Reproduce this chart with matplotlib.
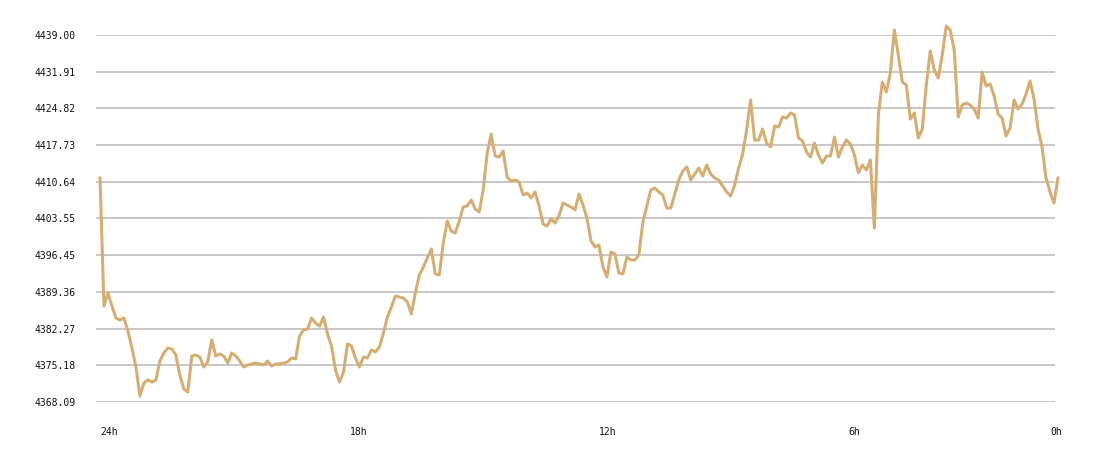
import numpy as np
import matplotlib
matplotlib.use("Agg")
import matplotlib.pyplot as plt

# Price over the last 24 hours, one reading every 0.1 h (oldest first)
prices = [
    4411.37, 4386.64, 4389.15, 4386.64, 4384.32, 4383.93, 4384.32, 4381.81, 4378.52, 4374.85,
    4369.25, 4371.76, 4372.34, 4371.95, 4372.34, 4376.01, 4377.56, 4378.52, 4378.33, 4377.17,
    4373.31, 4370.60, 4370.02, 4376.98, 4377.17, 4376.78, 4374.85, 4375.82, 4380.07, 4376.98,
    4377.36, 4376.98, 4375.62, 4377.56, 4376.98, 4376.01, 4374.85, 4375.24, 4375.43, 4375.62,
    4375.43, 4375.24, 4376.01, 4375.04, 4375.43, 4375.43, 4375.62, 4375.82, 4376.59, 4376.40,
    4380.84, 4382.00, 4382.19, 4384.32, 4383.35, 4382.77, 4384.51, 4381.23, 4378.91, 4374.27,
    4371.95, 4373.89, 4379.30, 4378.91, 4376.59, 4374.85, 4376.78, 4376.59, 4378.14, 4377.75,
    4378.72, 4381.42, 4384.51, 4386.44, 4388.57, 4388.38, 4388.18, 4387.41, 4385.09, 4389.15,
    4392.63, 4394.17, 4395.91, 4397.65, 4392.82, 4392.63, 4398.81, 4403.06, 4401.13, 4400.74,
    4403.06, 4405.77, 4405.96, 4407.12, 4405.38, 4404.80, 4409.05, 4416.20, 4419.87, 4415.62,
    4415.43, 4416.59, 4411.56, 4410.79, 4410.98, 4410.60, 4408.09, 4408.47, 4407.51, 4408.67,
    4405.96, 4402.48, 4402.10, 4403.45, 4402.68, 4404.03, 4406.54, 4406.15, 4405.77, 4405.19,
    4408.28, 4406.15, 4403.64, 4399.20, 4398.04, 4398.42, 4394.17, 4392.24, 4397.07, 4396.69,
    4393.01, 4392.82, 4396.11, 4395.53, 4395.53, 4396.49, 4402.87, 4405.96, 4409.05, 4409.44,
    4408.67, 4408.09, 4405.57, 4405.57, 4408.28, 4410.98, 4412.72, 4413.50, 4410.98, 4412.14,
    4413.30, 4411.76, 4413.88, 4412.14, 4411.37, 4410.98, 4409.82, 4408.67, 4407.89, 4410.02,
    4413.30, 4416.01, 4420.64, 4426.44, 4418.71, 4418.71, 4420.84, 4418.13, 4417.36, 4421.42,
    4421.22, 4423.16, 4422.96, 4423.93, 4423.54, 4419.10, 4418.52, 4416.39, 4415.43, 4418.13,
    4415.81, 4414.27, 4415.62, 4415.62, 4419.29, 4415.43, 4417.36, 4418.71, 4417.94, 4415.81,
    4412.34, 4413.88, 4412.92, 4414.85, 4401.71, 4423.54, 4429.92, 4427.99, 4431.66, 4439.97,
    4435.14, 4429.92, 4429.34, 4422.77, 4423.93, 4419.10, 4420.84, 4429.34, 4435.91, 4432.24,
    4430.69, 4435.14, 4440.74, 4439.97, 4436.10, 4423.16, 4425.47, 4425.86, 4425.47, 4424.70,
    4422.96, 4431.85, 4429.15, 4429.53, 4427.21, 4423.74, 4422.96, 4419.49, 4421.03, 4426.44,
    4424.70, 4425.67, 4427.60, 4430.11, 4426.63, 4420.84, 4417.36, 4411.37, 4408.67, 4406.54,
    4411.37,
]
hours = np.arange(len(prices)) * 0.1

y_ticks = [4368.09, 4375.18, 4382.27, 4389.36, 4396.45, 4403.55,
           4410.64, 4417.73, 4424.82, 4431.91, 4439.00]
x_tick_pos = [0, 6.25, 12.5, 18.75, 23.8]
x_tick_labels = ["24h", "18h", "12h", "6h", "0h"]

W, H = 1100, 458
fig = plt.figure(figsize=(W / 100, H / 100), dpi=100)
ax = fig.add_axes([96 / W, (H - 402) / H, (1055 - 96) / W, (402 - 35) / H])

ax.plot(hours, prices, color="#d4ae74", lw=2.2, clip_on=False, zorder=3,
        solid_joinstyle="round")

ax.set_ylim(y_ticks[0], y_ticks[-1])
ax.set_xlim(-0.1002, 23.925)
ax.set_yticks(y_ticks)
ax.set_yticklabels([f"{v:.2f}" for v in y_ticks])
ax.set_xticks(x_tick_pos)
ax.set_xticklabels(x_tick_labels, ha="left")

ax.grid(axis="y", color="#c4c4c4", lw=1.3, zorder=1)
ax.grid(axis="x", visible=False)
for s in ax.spines.values():
    s.set_visible(False)
ax.tick_params(axis="y", length=0, pad=14.4, labelsize=7, labelcolor="#111111")
ax.tick_params(axis="x", length=0, pad=18, labelsize=7, labelcolor="#111111")
for lab in ax.get_xticklabels() + ax.get_yticklabels():
    lab.set_family("DejaVu Sans Mono")

fig.savefig("out.png", dpi=100, facecolor="white")
